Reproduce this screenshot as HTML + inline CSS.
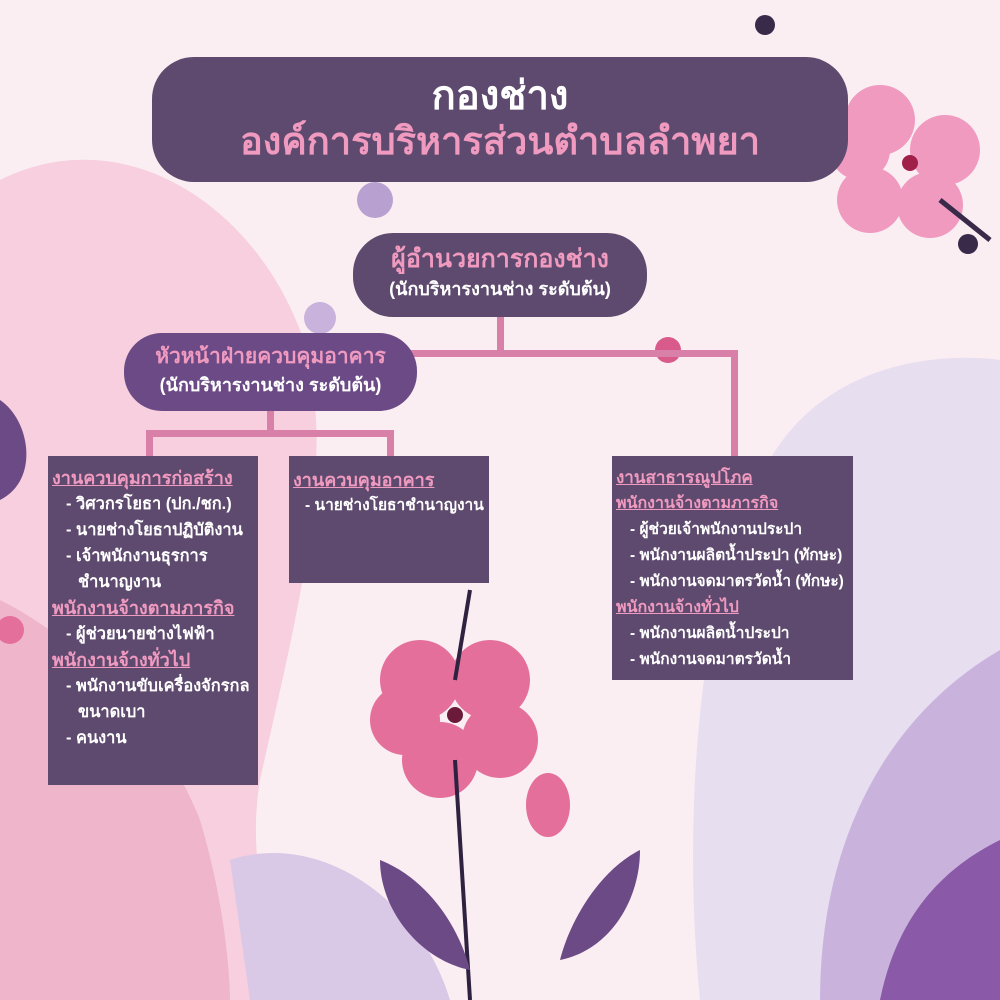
<!DOCTYPE html>
<html><head><meta charset="utf-8">
<style>
*{margin:0;padding:0;box-sizing:border-box}
body{width:1000px;height:1000px;position:relative;overflow:hidden;background:#fbeef3;font-family:"Liberation Sans","Noto Sans CJK SC",sans-serif;font-weight:bold}
.abs{position:absolute}
.box{position:absolute;background:#5e4a6e;color:#fff}
.line{position:absolute;background:#d980a9}
.h{color:#f09ac0;text-decoration:underline;font-size:18px;line-height:26px;white-space:nowrap}
.i{font-size:16.4px;line-height:26px;padding-left:14px;white-space:nowrap}
.i2{font-size:16.4px;line-height:26px;padding-left:26px;white-space:nowrap}
</style></head><body>
<svg class="abs" style="left:0;top:0" width="1000" height="1000">
<path d="M0 180 C120 120 250 200 300 330 C340 450 300 600 260 780 C240 900 300 1000 300 1000 L0 1000 Z" fill="#f7cfde"/>
<path d="M0 600 C80 640 160 720 200 820 C230 920 230 1000 230 1000 L0 1000Z" fill="#eeb5cb"/>
<path d="M700 1000 C680 800 700 520 800 420 C880 340 1000 360 1000 360 L1000 1000Z" fill="#e7def0"/>
<path d="M820 1000 C820 850 880 720 1000 650 L1000 1000Z" fill="#c9b3dc"/>
<path d="M880 1000 C900 900 960 860 1000 840 L1000 1000Z" fill="#8a5aa8"/>
<path d="M230 860 C320 830 420 900 450 1000 L250 1000Z" fill="#d9c8e6"/>
<circle cx="375" cy="200" r="18" fill="#b8a0d0"/>
<circle cx="320" cy="318" r="16" fill="#c9b3dc"/>
<circle cx="668" cy="350" r="13" fill="#d95b8c"/>
<g fill="#f09ac0"><circle cx="880" cy="120" r="35"/><circle cx="945" cy="150" r="35"/><circle cx="930" cy="205" r="33"/><circle cx="870" cy="200" r="33"/><circle cx="860" cy="150" r="30"/></g>
<circle cx="910" cy="163" r="8" fill="#a0204a"/>
<path d="M940 200 L990 240" stroke="#3a2a4a" stroke-width="5"/>
<circle cx="968" cy="244" r="10" fill="#3a2a4a"/>
<circle cx="765" cy="25" r="10" fill="#3a2a4a"/>
<g fill="#e46f9b"><circle cx="420" cy="680" r="40"/><circle cx="490" cy="680" r="40"/><circle cx="500" cy="740" r="38"/><circle cx="440" cy="760" r="38"/><circle cx="405" cy="720" r="35"/></g>
<circle cx="455" cy="715" r="8" fill="#6b1a3a"/>
<path d="M455 760 L470 1000 M470 590 L455 680" stroke="#2e2240" stroke-width="4"/>
<ellipse cx="548" cy="805" rx="22" ry="32" fill="#e46f9b"/>
<path d="M380 860 C430 880 460 930 470 970 C420 960 380 910 380 860Z" fill="#6b4a86"/>
<path d="M640 850 C600 870 570 920 560 960 C610 950 640 900 640 850Z" fill="#6b4a86"/>
<path d="M0 400 C30 420 40 480 0 500Z" fill="#6b4a86"/>
<circle cx="10" cy="630" r="14" fill="#e46f9b"/>
</svg>
<div class="box" style="left:152px;top:57px;width:696px;height:125px;border-radius:42px;text-align:center">
<div style="font-size:40px;line-height:44px;margin-top:17px">กองช่าง</div>
<div style="font-size:38px;line-height:48px;color:#f09ac0">องค์การบริหารส่วนตำบลลำพยา</div>
</div>
<div class="line" style="left:497px;top:316px;width:7px;height:40px"></div>
<div class="line" style="left:410px;top:350px;width:328px;height:7px"></div>
<div class="line" style="left:731px;top:350px;width:7px;height:108px"></div>
<div class="line" style="left:267px;top:408px;width:7px;height:28px"></div>
<div class="line" style="left:146px;top:430px;width:248px;height:7px"></div>
<div class="line" style="left:146px;top:430px;width:7px;height:28px"></div>
<div class="line" style="left:387px;top:430px;width:7px;height:28px"></div>
<div class="box" style="left:353px;top:233px;width:294px;height:84px;border-radius:40px;text-align:center">
<div style="font-size:25px;line-height:32px;margin-top:10px;color:#f09ac0">ผู้อำนวยการกองช่าง</div>
<div style="font-size:18px;line-height:28px">(นักบริหารงานช่าง ระดับต้น)</div>
</div>
<div class="box" style="left:124px;top:333px;width:293px;height:78px;border-radius:38px;text-align:center;background:#6b4a86">
<div style="font-size:21px;line-height:28px;margin-top:10px;color:#f09ac0">หัวหน้าฝ่ายควบคุมอาคาร</div>
<div style="font-size:18px;line-height:28px">(นักบริหารงานช่าง ระดับต้น)</div>
</div>
<div class="box" style="left:48px;top:456px;width:210px;height:329px;padding-top:9px;padding-left:4px">
<div class="h">งานควบคุมการก่อสร้าง</div>
<div class="i">- วิศวกรโยธา (ปก./ชก.)</div>
<div class="i">- นายช่างโยธาปฏิบัติงาน</div>
<div class="i">- เจ้าพนักงานธุรการ</div>
<div class="i2">ชำนาญงาน</div>
<div class="h">พนักงานจ้างตามภารกิจ</div>
<div class="i">- ผู้ช่วยนายช่างไฟฟ้า</div>
<div class="h">พนักงานจ้างทั่วไป</div>
<div class="i">- พนักงานขับเครื่องจักรกล</div>
<div class="i2">ขนาดเบา</div>
<div class="i">- คนงาน</div>
</div>
<div class="box" style="left:289px;top:456px;width:200px;height:127px;padding-top:11px;padding-left:4px">
<div class="h">งานควบคุมอาคาร</div>
<div class="i" style="font-size:15.5px;padding-left:12px">- นายช่างโยธาชำนาญงาน</div>
</div>
<div class="box" style="left:612px;top:456px;width:241px;height:224px;padding-top:9px;padding-left:4px">
<div class="h" style="font-size:17px">งานสาธารณูปโภค</div>
<div class="h" style="font-size:16px">พนักงานจ้างตามภารกิจ</div>
<div class="i" style="font-size:15.5px">- ผู้ช่วยเจ้าพนักงานประปา</div>
<div class="i" style="font-size:15.5px">- พนักงานผลิตน้ำประปา (ทักษะ)</div>
<div class="i" style="font-size:15.5px">- พนักงานจดมาตรวัดน้ำ (ทักษะ)</div>
<div class="h" style="font-size:16px">พนักงานจ้างทั่วไป</div>
<div class="i" style="font-size:15.5px">- พนักงานผลิตน้ำประปา</div>
<div class="i" style="font-size:15.5px">- พนักงานจดมาตรวัดน้ำ</div>
</div>
</body></html>
